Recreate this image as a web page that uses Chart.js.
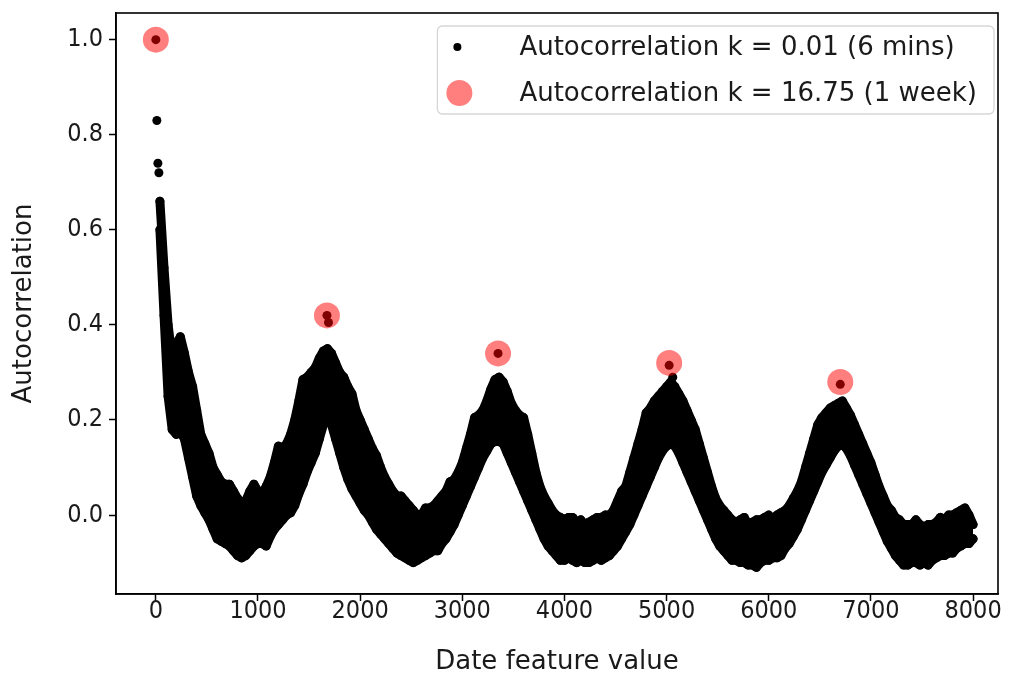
<!DOCTYPE html>
<html>
<head>
<meta charset="utf-8">
<script src="https://cdn.jsdelivr.net/npm/chart.js@4.4.0/dist/chart.umd.min.js"></script>
<style>
  html, body { margin: 0; padding: 0; background: #fff; }
  #wrap { width: 1011px; height: 678px; }
</style>
</head>
<body>
<div id="wrap"><canvas id="acfChart" width="1011" height="678"></canvas></div>
<script>
// The 6-minute autocorrelation is a dense cloud of points; it is read off the
// plot as its upper and lower edge every 40 lag units, starting at lag 40.
const LAG_START = 40;
const LAG_STEP = 40;

const acfUpper = [
  0.66, 0.52, 0.40, 0.33, 0.36,
  0.375, 0.34, 0.30, 0.27, 0.22, 0.17,
  0.15, 0.13, 0.10, 0.085, 0.07, 0.065,
  0.065, 0.05, 0.035, 0.025, 0.03, 0.05,
  0.065, 0.05, 0.045, 0.06, 0.08, 0.11,
  0.145, 0.14, 0.15, 0.17, 0.20, 0.24,
  0.285, 0.29, 0.30, 0.31, 0.33, 0.345,
  0.35, 0.34, 0.32, 0.30, 0.29, 0.27,
  0.255, 0.22, 0.20, 0.18, 0.16, 0.14,
  0.125, 0.10, 0.08, 0.065, 0.05, 0.04,
  0.04, 0.03, 0.02, 0.01, 0.0, 0.0,
  0.015, 0.015, 0.02, 0.03, 0.04, 0.05,
  0.07, 0.075, 0.09, 0.11, 0.14, 0.17,
  0.205, 0.21, 0.22, 0.24, 0.265, 0.285,
  0.29, 0.28, 0.26, 0.235, 0.22, 0.21,
  0.205, 0.17, 0.13, 0.09, 0.06, 0.04,
  0.025, 0.01, 0.0, -0.005, -0.01, -0.005,
  -0.005, -0.015, -0.01, -0.02, -0.015, -0.01,
  -0.005, -0.005, 0.0, 0.0, 0.01, 0.03,
  0.05, 0.06, 0.09, 0.12, 0.15, 0.18,
  0.215, 0.225, 0.24, 0.25, 0.26, 0.27,
  0.28, 0.27, 0.255, 0.24, 0.22, 0.20,
  0.18, 0.15, 0.12, 0.09, 0.06, 0.035,
  0.02, 0.01, 0.0, -0.01, -0.015, -0.01,
  -0.005, -0.02, -0.015, -0.01, -0.01, -0.005,
  0.0, -0.01, 0.0, 0.005, 0.01, 0.02,
  0.035, 0.05, 0.07, 0.10, 0.13, 0.16,
  0.19, 0.205, 0.215, 0.225, 0.23, 0.235,
  0.24, 0.225, 0.21, 0.19, 0.17, 0.15,
  0.13, 0.11, 0.085, 0.06, 0.04, 0.02,
  0.01, -0.005, -0.01, -0.02, -0.02, -0.02,
  -0.01, -0.02, -0.025, -0.02, -0.02, -0.015,
  -0.005, -0.01, 0.0, 0.0, 0.005, 0.01,
  0.015, 0.0, -0.02
];

const acfLower = [
  0.60, 0.42, 0.25, 0.18, 0.17,
  0.175, 0.16, 0.12, 0.08, 0.04, 0.02,
  0.005, -0.01, -0.03, -0.05, -0.055, -0.06,
  -0.065, -0.075, -0.085, -0.09, -0.085, -0.075,
  -0.065, -0.06, -0.06, -0.065, -0.045, -0.03,
  -0.02, -0.01, 0.0, 0.005, 0.02, 0.045,
  0.065, 0.09, 0.11, 0.13, 0.16, 0.19,
  0.20, 0.19, 0.16, 0.13, 0.10, 0.075,
  0.055, 0.04, 0.025, 0.01, 0.0, -0.015,
  -0.03, -0.04, -0.05, -0.06, -0.07, -0.08,
  -0.085, -0.09, -0.095, -0.10, -0.095, -0.09,
  -0.085, -0.08, -0.075, -0.075, -0.06, -0.05,
  -0.035, -0.02, 0.0, 0.02, 0.04, 0.06,
  0.08, 0.10, 0.12, 0.135, 0.15, 0.155,
  0.155, 0.15, 0.13, 0.11, 0.09, 0.07,
  0.05, 0.03, 0.01, -0.01, -0.03, -0.05,
  -0.065, -0.075, -0.085, -0.095, -0.095, -0.09,
  -0.095, -0.10, -0.095, -0.10, -0.10, -0.095,
  -0.09, -0.095, -0.09, -0.085, -0.075, -0.065,
  -0.05, -0.035, -0.02, 0.0, 0.02, 0.04,
  0.06, 0.08, 0.10, 0.12, 0.135, 0.145,
  0.15, 0.145, 0.13, 0.11, 0.09, 0.07,
  0.05, 0.03, 0.01, -0.01, -0.03, -0.05,
  -0.065, -0.075, -0.085, -0.095, -0.095, -0.10,
  -0.10, -0.105, -0.105, -0.11, -0.10, -0.095,
  -0.095, -0.09, -0.09, -0.085, -0.07, -0.06,
  -0.045, -0.03, -0.01, 0.01, 0.03, 0.05,
  0.07, 0.09, 0.105, 0.12, 0.135, 0.145,
  0.15, 0.14, 0.125, 0.105, 0.085, 0.065,
  0.045, 0.025, 0.005, -0.015, -0.035, -0.055,
  -0.07, -0.085, -0.095, -0.105, -0.105, -0.10,
  -0.10, -0.105, -0.10, -0.105, -0.095, -0.09,
  -0.085, -0.085, -0.08, -0.08, -0.07, -0.065,
  -0.06, -0.06, -0.05
];

// isolated 6-minute points (first lags and the ones under the red markers)
const looseLag = [0, 10, 20, 30, 1675, 1690, 3350, 5025, 5060, 6700];
const looseAcf = [1.0, 0.83, 0.74, 0.72, 0.42, 0.405, 0.34, 0.315, 0.29, 0.275];

// one-week lags
const weekLag = [0, 1675, 3350, 5025, 6700];
const weekAcf = [1.0, 0.42, 0.34, 0.32, 0.28];

const xTicks = [0, 1000, 2000, 3000, 4000, 5000, 6000, 7000, 8000];
const yTicks = [0.0, 0.2, 0.4, 0.6, 0.8, 1.0];

const FONT = "'DejaVu Sans', sans-serif";
const TICK_FONT = "'DejaVu Sans Condensed', 'DejaVu Sans', sans-serif";
const TEXT = "#1a1a1a";
Chart.defaults.font.family = FONT;
Chart.defaults.color = TEXT;

const toPoints = (vals) => vals.map((v, i) => ({ x: LAG_START + i * LAG_STEP, y: v }));
const looseData = looseLag.map((x, i) => ({ x: x, y: looseAcf[i] }));
const weekData = weekLag.map((x, i) => ({ x: x, y: weekAcf[i] }));

const cloudStyle = {
  borderColor: "#000",
  borderWidth: 9,
  borderJoinStyle: "round",
  borderCapStyle: "round",
  pointRadius: 4.5,
  pointBackgroundColor: "#000",
  pointBorderWidth: 0,
  order: 2,
};

// matplotlib-like full box around the plot
const frame = {
  id: "frame",
  afterDatasetsDraw(chart) {
    const { ctx, chartArea: a } = chart;
    ctx.save();
    ctx.strokeStyle = "#000";
    ctx.lineWidth = 1.6;
    ctx.strokeRect(a.left, a.top, a.right - a.left, a.bottom - a.top);
    ctx.restore();
  },
};

// legend drawn inside the plot, upper right
const legendBox = {
  id: "legendBox",
  afterDraw(chart) {
    const { ctx, chartArea: a } = chart;
    const fine = chart.data.datasets[0];
    const week = chart.data.datasets[3];
    ctx.save();
    ctx.font = "26px " + FONT;
    const textW = Math.max(
      ctx.measureText(fine.label).width,
      ctx.measureText(week.label).width
    );
    const w = 82 + textW + 17;
    const h = 88;
    const x0 = a.right - 4 - w;
    const y0 = a.top + 13;

    ctx.beginPath();
    ctx.roundRect(x0, y0, w, h, 5);
    ctx.fillStyle = "rgba(255,255,255,0.8)";
    ctx.fill();
    ctx.strokeStyle = "#d6d6d6";
    ctx.lineWidth = 1.3;
    ctx.stroke();

    ctx.beginPath();
    ctx.arc(x0 + 20, y0 + 21, 4, 0, Math.PI * 2);
    ctx.fillStyle = "#000";
    ctx.fill();

    ctx.beginPath();
    ctx.arc(x0 + 22, y0 + 67, 13, 0, Math.PI * 2);
    ctx.fillStyle = "rgba(255,0,0,0.5)";
    ctx.fill();

    ctx.fillStyle = TEXT;
    ctx.textBaseline = "middle";
    ctx.textAlign = "left";
    ctx.fillText(fine.label, x0 + 82, y0 + 22);
    ctx.fillText(week.label, x0 + 82, y0 + 68);
    ctx.restore();
  },
};

new Chart(document.getElementById("acfChart"), {
  type: "line",
  data: {
    datasets: [
      Object.assign({
        label: "Autocorrelation k = 0.01 (6 mins)",
        data: toPoints(acfUpper),
        fill: "+1",
        backgroundColor: "#000",
      }, cloudStyle),
      Object.assign({
        label: "_lower",
        data: toPoints(acfLower),
        fill: false,
      }, cloudStyle),
      {
        label: "_loose",
        data: looseData,
        showLine: false,
        pointRadius: 4.5,
        pointBackgroundColor: "#000",
        pointBorderWidth: 0,
        order: 2,
      },
      {
        label: "Autocorrelation k = 16.75 (1 week)",
        data: weekData,
        showLine: false,
        pointRadius: 13,
        pointBackgroundColor: "rgba(255,0,0,0.5)",
        pointBorderWidth: 0,
        order: 1,
      },
    ],
  },
  options: {
    responsive: false,
    animation: false,
    events: [],
    devicePixelRatio: 1,
    layout: { padding: { left: 0, top: 13, right: 10, bottom: 0 } },
    plugins: {
      legend: { display: false },
      tooltip: { enabled: false },
    },
    scales: {
      x: {
        type: "linear",
        min: -390,
        max: 8244,
        afterBuildTicks: (scale) => {
          scale.ticks = xTicks.map((v) => ({ value: v }));
        },
        afterFit: (scale) => {
          scale.height = 84;
          scale.paddingLeft = 0;
          scale.paddingRight = 0;
        },
        grid: {
          drawOnChartArea: false,
          drawTicks: true,
          tickLength: 7,
          tickWidth: 1.5,
          tickColor: "#000",
        },
        border: { display: true, color: "#000", width: 1.6 },
        ticks: {
          autoSkip: false,
          maxRotation: 0,
          padding: -2,
          color: TEXT,
          font: { family: TICK_FONT, size: 25, lineHeight: 1 },
          callback: (v) => String(v),
        },
        title: {
          display: true,
          text: "Date feature value",
          color: TEXT,
          font: { size: 26 },
          padding: { top: 0, bottom: 0 },
        },
      },
      y: {
        type: "linear",
        min: -0.166,
        max: 1.056,
        afterBuildTicks: (scale) => {
          scale.ticks = yTicks.map((v) => ({ value: v }));
        },
        afterFit: (scale) => {
          scale.width = 116;
          scale.paddingTop = 0;
          scale.paddingBottom = 0;
        },
        grid: {
          drawOnChartArea: false,
          drawTicks: true,
          tickLength: 7,
          tickWidth: 1.5,
          tickColor: "#000",
        },
        border: { display: true, color: "#000", width: 1.6 },
        ticks: {
          autoSkip: false,
          padding: 6,
          color: TEXT,
          font: { family: TICK_FONT, size: 25, lineHeight: 1 },
          callback: (v) => v.toFixed(1),
        },
        title: {
          display: true,
          text: "Autocorrelation",
          color: TEXT,
          font: { size: 26 },
          padding: { top: 9, bottom: 0 },
        },
      },
    },
  },
  plugins: [frame, legendBox],
});
</script>
</body>
</html>
